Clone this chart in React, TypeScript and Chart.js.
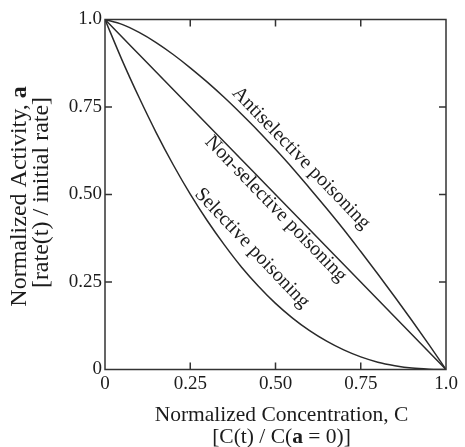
import React, { useEffect, useRef } from "react";
import { Chart, registerables } from "chart.js";

Chart.register(...registerables);

// Normalized concentration C (x)
const concentration = [0, 0.05, 0.1, 0.15, 0.2, 0.25, 0.3, 0.35, 0.4, 0.45, 0.5, 0.55, 0.6, 0.65, 0.7, 0.75, 0.8, 0.85, 0.9, 0.95, 1.0];
// Normalized activity a (y) for each curve
const antiselective = [1, 0.986, 0.963, 0.934, 0.9, 0.862, 0.821, 0.777, 0.73, 0.681, 0.629, 0.575, 0.518, 0.46, 0.4, 0.337, 0.273, 0.207, 0.14, 0.071, 0];
const nonselective = [1, 0.95, 0.9, 0.85, 0.8, 0.75, 0.7, 0.65, 0.6, 0.55, 0.5, 0.45, 0.4, 0.35, 0.3, 0.25, 0.2, 0.15, 0.1, 0.05, 0];
const selective = [1, 0.884, 0.777, 0.677, 0.585, 0.501, 0.425, 0.356, 0.293, 0.238, 0.189, 0.147, 0.111, 0.081, 0.056, 0.036, 0.021, 0.011, 0.004, 0.001, 0];

const tickValues = [0, 0.25, 0.5, 0.75, 1.0];
const tickLabels = ["0", "0.25", "0.50", "0.75", "1.0"];

const curveLabels = ["Antiselective poisoning", "Non-selective poisoning", "Selective poisoning"];
const curveLabelAnchors = [
  { c: 0.575, a: 0.604, angle: 46 },
  { c: 0.501, a: 0.459, angle: 46 },
  { c: 0.431, a: 0.347, angle: 46.5 },
];

const FONT = "'Liberation Serif', 'Times New Roman', serif";
const INK = "#1c1c1c";
const LINE = "#2a2a2a";

type Part = { text: string; bold?: boolean };

function drawRich(ctx: CanvasRenderingContext2D, parts: Part[], cx: number, cy: number, size: number) {
  const fontFor = (b?: boolean) => `${b ? "bold " : ""}${size}px ${FONT}`;
  let total = 0;
  const widths = parts.map((p) => {
    ctx.font = fontFor(p.bold);
    const w = ctx.measureText(p.text).width;
    total += w;
    return w;
  });
  let x = cx - total / 2;
  ctx.textAlign = "left";
  ctx.textBaseline = "middle";
  parts.forEach((p, i) => {
    ctx.font = fontFor(p.bold);
    ctx.fillText(p.text, x, cy);
    x += widths[i];
  });
}

const overlay = {
  id: "overlay",
  afterDraw(chart: any) {
    const { ctx, chartArea: ca, scales } = chart;
    const xs = scales.x;
    const ys = scales.y;
    ctx.save();
    // frame
    ctx.strokeStyle = "#333";
    ctx.lineWidth = 1.5;
    ctx.strokeRect(ca.left, ca.top, ca.right - ca.left, ca.bottom - ca.top);
    // inward tick marks on all four sides
    const tl = 7;
    ctx.beginPath();
    tickValues.slice(1, -1).forEach((v) => {
      const px = xs.getPixelForValue(v);
      ctx.moveTo(px, ca.bottom);
      ctx.lineTo(px, ca.bottom - tl);
      ctx.moveTo(px, ca.top);
      ctx.lineTo(px, ca.top + tl);
      const py = ys.getPixelForValue(v);
      ctx.moveTo(ca.left, py);
      ctx.lineTo(ca.left + tl, py);
      ctx.moveTo(ca.right, py);
      ctx.lineTo(ca.right - tl, py);
    });
    ctx.stroke();

    // curve labels
    ctx.fillStyle = INK;
    curveLabels.forEach((t, i) => {
      const an = curveLabelAnchors[i];
      const px = xs.getPixelForValue(an.c);
      const py = ys.getPixelForValue(an.a);
      ctx.save();
      ctx.translate(px, py);
      ctx.rotate((an.angle * Math.PI) / 180);
      ctx.font = `20px ${FONT}`;
      ctx.textAlign = "center";
      ctx.textBaseline = "middle";
      ctx.fillText(t, 0, 0);
      ctx.restore();
    });

    // x axis title
    const xc = (ca.left + ca.right) / 2 + 6;
    drawRich(ctx, [{ text: "Normalized Concentration, C" }], xc, ca.bottom + 46, 21.5);
    drawRich(ctx, [{ text: "[C(t) / C(" }, { text: "a", bold: true }, { text: " = 0)]" }], xc, ca.bottom + 68, 21.5);

    // y axis title
    const yc = (ca.top + ca.bottom) / 2 + 2;
    ctx.save();
    ctx.translate(20, yc);
    ctx.rotate(-Math.PI / 2);
    drawRich(ctx, [{ text: "Normalized Activity, " }, { text: "a", bold: true }], 0, 0, 24);
    ctx.restore();
    ctx.save();
    ctx.translate(42, yc - 4);
    ctx.rotate(-Math.PI / 2);
    drawRich(ctx, [{ text: "[rate(t) / initial rate]" }], 0, 0, 24);
    ctx.restore();

    ctx.restore();
  },
};

function series(values: number[]) {
  return concentration.map((c, i) => ({ x: c, y: values[i] }));
}

export default function App() {
  const ref = useRef<HTMLCanvasElement | null>(null);
  useEffect(() => {
    if (!ref.current) return;
    const ds = (label: string, values: number[]) => ({
      label,
      data: series(values),
      borderColor: LINE,
      borderWidth: 1.5,
      pointRadius: 0,
      fill: false,
      cubicInterpolationMode: "monotone" as const,
    });
    const tickFont = { family: FONT, size: 19 };
    const chart = new Chart(ref.current, {
      type: "line",
      data: {
        datasets: [
          ds(curveLabels[0], antiselective),
          ds(curveLabels[1], nonselective),
          ds(curveLabels[2], selective),
        ],
      },
      options: {
        animation: false,
        responsive: false,
        maintainAspectRatio: false,
        layout: { padding: { left: 0, right: 19, top: 19.5, bottom: 0 } },
        plugins: { legend: { display: false }, tooltip: { enabled: false }, title: { display: false } },
        scales: {
          x: {
            type: "linear",
            min: 0,
            max: 1,
            afterBuildTicks: (s: any) => {
              s.ticks = tickValues.map((v) => ({ value: v }));
            },
            afterFit: (s: any) => {
              s.height = 77.5;
            },
            grid: { display: false, drawTicks: false },
            border: { display: false },
            ticks: {
              font: tickFont,
              color: INK,
              padding: 3,
              maxRotation: 0,
              autoSkip: false,
              callback: (_v: any, i: number) => tickLabels[i],
            },
          },
          y: {
            type: "linear",
            min: 0,
            max: 1,
            afterBuildTicks: (s: any) => {
              s.ticks = tickValues.map((v) => ({ value: v }));
            },
            afterFit: (s: any) => {
              s.width = 105;
            },
            grid: { display: false, drawTicks: false },
            border: { display: false },
            ticks: {
              font: tickFont,
              color: INK,
              padding: 3,
              autoSkip: false,
              callback: (_v: any, i: number) => tickLabels[i],
            },
          },
        },
      },
      plugins: [overlay],
    });
    return () => chart.destroy();
  }, []);
  return (
    <div style={{ position: "absolute", left: 0, top: 0, width: 465, height: 447, background: "#fff" }}>
      <canvas ref={ref} width={465} height={447} style={{ display: "block", width: 465, height: 447 }} />
    </div>
  );
}
